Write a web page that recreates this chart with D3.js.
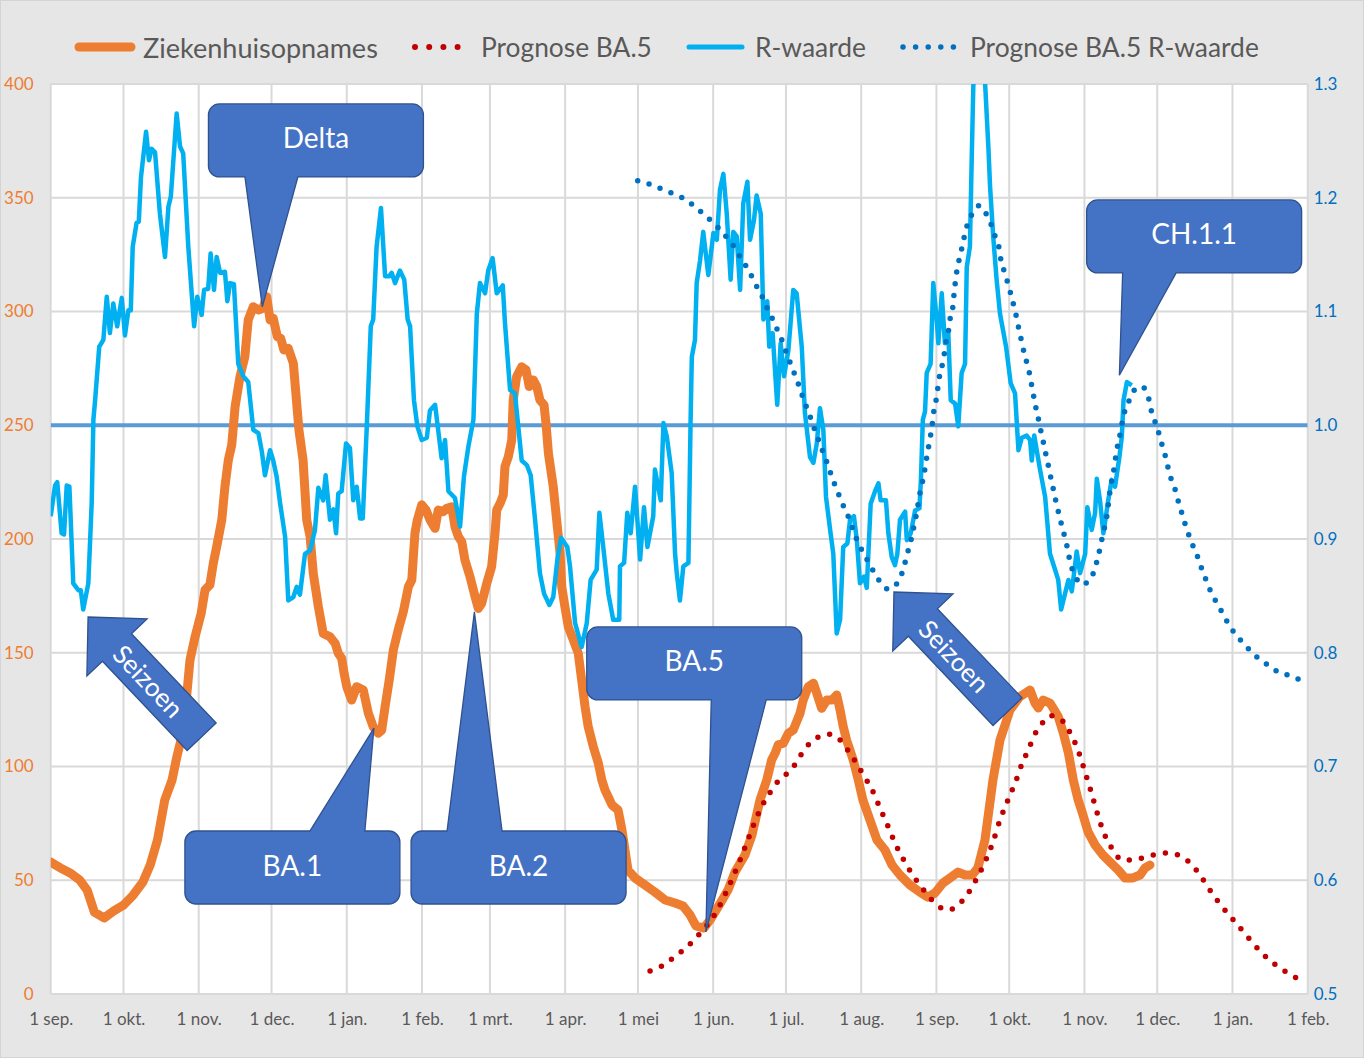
<!DOCTYPE html>
<html><head><meta charset="utf-8">
<script src="https://cdn.jsdelivr.net/npm/d3@7"></script>
<style>html,body{margin:0;padding:0;background:#fff}svg{display:block}text{font-family:Lato,'Open Sans',sans-serif}</style>
</head><body><svg id="chart" width="1364" height="1058"></svg>
<script>
// ---------------- DATA ----------------
const startDate = new Date(2021, 8, 1);
const endDate = new Date(2023, 1, 1);
const monthLabels = ["1 sep.","1 okt.","1 nov.","1 dec.","1 jan.","1 feb.","1 mrt.","1 apr.","1 mei","1 jun.","1 jul.","1 aug.","1 sep.","1 okt.","1 nov.","1 dec.","1 jan.","1 feb."];
const leftTicks = [0,50,100,150,200,250,300,350,400];
const rightTicks = [0.5,0.6,0.7,0.8,0.9,1.0,1.1,1.2,1.3];
const seriesNames = ["Ziekenhuisopnames","Prognose BA.5","R-waarde","Prognose BA.5 R-waarde"];
const referenceR = 1.0;

// [days since 1 sep 2021, hospital admissions]
const admissions = [[0,58],[4,55.4],[8,53.2],[12,50.1],[15,45.7],[18,36],[22,33.4],[26,36.5],[30,39.1],[34,43.5],[38,49.2],[41,56.7],[44,67.7],[47,85.3],[50,94],[52,104.3],[55,117.5],[56,130.7],[57.4,146.8],[59.5,157],[62,167.3],[63.6,177.6],[65.6,179.8],[67,189.3],[68.4,196.6],[70.5,208.4],[71.8,223],[73.2,234.7],[74.6,241.3],[76,258.2],[78,271.3],[80,280.1],[81.4,296.3],[83.5,302.1],[85.6,300.7],[87.4,301.4],[89,306.5],[90.4,296.3],[91.7,297],[93.4,288.9],[94.8,288.2],[96.1,283.1],[97.9,283.8],[100,277.2],[102.3,247.9],[104,234.7],[105.5,208.4],[106.9,201],[108.2,184.9],[110.3,170.2],[112.3,158.5],[115.1,157],[117.2,154.2],[118.5,149.8],[119.9,147.6],[120.9,141],[122,135.1],[124,129.2],[126.1,135.1],[128.8,133.6],[130.9,123.4],[132.9,117.5],[135,114.6],[136.4,116],[137.8,126.3],[139.5,138],[141.2,151.2],[143.2,160],[145.3,168],[147.4,179],[148.8,182],[150.1,202.5],[151.1,208.4],[152.9,215],[154.7,212.7],[156.3,208.4],[158.4,204.7],[159.7,212.7],[161.8,212],[163.2,213.5],[165.3,214.2],[166.6,205.4],[168,201],[169.4,198.8],[170.7,190.8],[172.8,183.4],[174.9,174.6],[176.2,169.5],[177.6,171.7],[179.7,180.5],[181.7,187.8],[183.1,202.5],[183.8,212.7],[185.2,215.7],[186.5,219.3],[187.2,231.8],[188.6,236.2],[190,243.5],[190.6,261.1],[192,271.3],[194.1,275.7],[195.9,274.3],[197.2,267],[198.9,269.9],[200.3,267],[201.6,261.1],[203.3,258.9],[204.1,250.9],[205.1,237.7],[207.1,223],[208.5,208.4],[209.9,193.7],[210.6,179],[211.9,170.2],[213.3,161.4],[215.4,155.6],[217.4,149.8],[218.8,138],[220.2,126.3],[221.5,117.5],[223.6,108.7],[225.7,101.4],[227.1,94.1],[228.4,89.7],[231.3,83.1],[233.8,80.9],[235.4,72.1],[237.9,54.5],[240.8,51],[244.9,47.9],[249,44.8],[253.2,41.3],[257.3,40],[260.6,38.7],[263.5,34.7],[265.9,29.9],[269.2,29],[271.7,32.5],[274.2,36.9],[276.7,41.3],[279.1,45.7],[282,53.6],[286.1,61.1],[289,69.9],[292.3,85.3],[295.1,94.1],[297.1,102.9],[298.5,105.8],[299.8,109.5],[301.9,110.2],[304,114.6],[306,116],[307.4,119.7],[308.8,123.4],[310.1,129.2],[312.2,135.1],[314.3,136.6],[315.7,132.2],[317.7,125.6],[319.8,129.2],[321.9,129.2],[323.9,131.4],[325.3,124.8],[326.6,117.5],[328,111.6],[330.7,102.9],[332.8,94.1],[334.7,85.3],[337.6,76.5],[340.5,67.7],[343.8,63.3],[346.7,56.7],[350,52.3],[354.1,47.9],[358.2,44.8],[361.5,42.6],[364.4,44.4],[367.7,48.8],[370.6,51],[373.9,53.6],[376.8,52.3],[379.7,52.3],[382.1,55.4],[385,67.7],[388.3,94.1],[391.2,111.6],[395.3,124.8],[399.4,130.7],[403.6,133.6],[405.6,127.9],[407,125.7],[409,129.2],[411.8,127.9],[415.2,121.9],[417.3,114.7],[419.4,105.9],[421.4,94.1],[423.4,85.3],[425.4,78.7],[427.5,71.2],[430.4,65.5],[433.6,61.1],[436.5,58],[439.9,54.5],[442.7,51],[446,51],[448.9,52.3],[451,55.4],[453,56.7]];

// [days, R]
const rValues = [[0,0.920],[1.8,0.947],[2.7,0.950],[4.5,0.905],[5.5,0.904],[6.6,0.947],[7.7,0.946],[9.3,0.861],[11.4,0.855],[12.4,0.855],[13.4,0.838],[15.5,0.861],[16.9,0.932],[17.6,1.005],[18.3,1.022],[20,1.069],[21.7,1.075],[23.1,1.113],[24.4,1.081],[25.8,1.107],[27.4,1.087],[29.3,1.112],[30.6,1.079],[32,1.101],[33,1.101],[33.8,1.157],[35.4,1.178],[36.3,1.179],[37.2,1.218],[39.3,1.258],[40.5,1.233],[41.6,1.243],[43,1.240],[45,1.186],[47.1,1.148],[48.5,1.192],[49.5,1.201],[51.9,1.274],[53.3,1.245],[54.6,1.239],[56.7,1.157],[59.1,1.087],[60.4,1.113],[62.2,1.097],[63.2,1.119],[64.9,1.120],[65.9,1.151],[67.3,1.119],[68.4,1.148],[69.8,1.134],[71.8,1.135],[72.8,1.109],[73.9,1.125],[75.5,1.124],[77.3,1.054],[79.4,1.043],[81.4,1.038],[83.5,0.996],[85.6,0.993],[87,0.977],[88.3,0.956],[90.4,0.978],[91.7,0.969],[93.1,0.955],[94.5,0.932],[96.6,0.902],[97.9,0.846],[100,0.849],[101.4,0.858],[102.7,0.851],[104.8,0.887],[106.9,0.890],[108.9,0.908],[110.3,0.945],[112.3,0.934],[113.3,0.956],[115.1,0.917],[116.5,0.926],[117.6,0.905],[118.5,0.940],[119.9,0.942],[121.7,0.984],[123.3,0.980],[124.7,0.934],[126.1,0.946],[127.5,0.918],[128.6,0.918],[130.2,0.996],[131.9,1.087],[132.9,1.093],[134.3,1.157],[136.1,1.191],[137.8,1.131],[139.5,1.131],[140.5,1.134],[141.9,1.125],[143.9,1.136],[145.7,1.128],[147.1,1.093],[148.1,1.087],[149.7,1.022],[151.1,0.999],[152.9,0.987],[155,0.989],[156.3,1.013],[158.4,1.018],[161.1,0.971],[162.5,0.987],[163.9,0.942],[166.6,0.936],[168.7,0.911],[170.3,0.955],[172.1,0.981],[174.2,1.005],[175.6,1.098],[176.9,1.125],[179,1.116],[180.3,1.136],[182.1,1.147],[183.8,1.116],[186.3,1.123],[187.2,1.090],[189.3,1.031],[191.3,1.028],[194.1,0.969],[196.2,0.965],[197.8,0.956],[199.6,0.917],[201.6,0.870],[203.3,0.852],[205.5,0.842],[207.1,0.849],[208.8,0.882],[210.3,0.901],[212.9,0.893],[214,0.876],[216.1,0.826],[218.8,0.805],[220.9,0.826],[222.5,0.864],[225,0.873],[226.1,0.923],[227.7,0.893],[229.8,0.852],[231.8,0.829],[234.3,0.829],[234.6,0.876],[236.3,0.879],[237.6,0.923],[239,0.905],[240.8,0.946],[242.9,0.882],[244.5,0.928],[245.9,0.893],[248.3,0.920],[249,0.961],[251.4,0.934],[252.5,1.002],[253.9,0.990],[255.9,0.958],[257.3,0.887],[258,0.870],[259.3,0.846],[260.7,0.876],[262.8,0.879],[263.7,1.005],[264.2,1.060],[265.5,1.075],[266.2,1.125],[267.6,1.145],[268.9,1.170],[271,1.132],[273.1,1.169],[274.5,1.163],[275.8,1.207],[277.2,1.221],[278.6,1.186],[280.2,1.128],[281.3,1.170],[282.7,1.166],[284.1,1.119],[285.4,1.195],[287.1,1.214],[288.2,1.163],[289.8,1.180],[290.9,1.202],[292.6,1.186],[293.7,1.093],[295.3,1.109],[296.1,1.069],[297.5,1.081],[299.4,1.018],[300.8,1.072],[302.2,1.043],[304,1.066],[306,1.119],[307.4,1.116],[309.5,1.069],[310.8,1.011],[312.9,0.972],[314.3,0.967],[315.7,0.984],[317,1.015],[318.4,0.996],[319.5,0.937],[321.2,0.908],[322.5,0.887],[323.9,0.817],[325.3,0.829],[326.6,0.893],[328.3,0.896],[329.4,0.917],[331,0.920],[332.2,0.899],[333.5,0.861],[335.2,0.867],[336.3,0.857],[337.9,0.931],[339.7,0.942],[341.1,0.949],[342,0.934],[344.2,0.934],[345.2,0.905],[346.6,0.884],[347.9,0.877],[348.9,0.887],[350,0.917],[352.1,0.924],[352.8,0.899],[354.4,0.905],[356.2,0.925],[358,0.927],[358.6,0.952],[359.4,1.005],[360.3,1.012],[361,1.046],[362.6,1.054],[363.7,1.125],[365.1,1.093],[365.8,1.072],[367.2,1.116],[368.5,1.072],[369.9,1.081],[370.9,1.022],[372.7,1.019],[374,0.999],[375.4,1.046],[376.8,1.054],[377.5,1.139],[378.8,1.157],[379.5,1.230],[380.2,1.298],[381.8,1.345],[383.2,1.365],[384.3,1.335],[385,1.303],[386.4,1.245],[387.1,1.210],[388.4,1.166],[389.8,1.128],[391.2,1.098],[393.7,1.069],[395.6,1.037],[397.4,1.028],[398.8,0.978],[400.2,0.989],[402.2,0.991],[403.6,0.987],[404.3,0.969],[405.3,0.991],[407.7,0.961],[409.8,0.937],[411.8,0.887],[413.9,0.873],[415.2,0.864],[416.4,0.838],[418,0.852],[419.4,0.864],[420.8,0.854],[422.8,0.889],[424.2,0.870],[426.3,0.887],[427.2,0.928],[429,0.908],[430.4,0.923],[431.1,0.953],[432.4,0.934],[433.8,0.905],[435.8,0.934],[437.2,0.952],[438.6,0.946],[440.4,0.972],[441.4,0.990],[442.1,1.022],[443.5,1.038],[445.5,1.035]];

// [days, forecast admissions]
const forecastAdmissions = [[247,10.1],[251.9,12.3],[256.4,15.8],[260.6,19.3],[264.7,23.3],[268.4,27.7],[272.1,32.5],[275.8,39.1],[279.9,48.4],[284.1,58.9],[288.2,70.3],[292.3,80.9],[296.4,88.5],[300.5,94.5],[305.4,98.8],[308.1,103.3],[311.3,108.4],[315.4,112.4],[320.7,114.2],[325.7,111.2],[329.1,106.2],[332.2,101.1],[335.2,95.8],[338.5,89.7],[341.7,81.8],[345,73.8],[348.3,65.5],[352,58],[356.1,51],[360.7,44.4],[365.2,39.1],[369.8,36.9],[373.9,39.1],[377.6,43.5],[381.3,50.1],[385,58],[388.3,66.8],[391.2,76.5],[394.5,85.3],[398.5,95.8],[400.4,101.7],[402.9,107.3],[404.9,112.8],[408,118.2],[412.1,122.3],[417,120],[420,115],[422.5,109.5],[424.5,103.6],[426.2,97.7],[428.3,90.5],[430.3,83.1],[432.4,75.6],[434.9,68.6],[437.8,63.3],[441.5,58.9],[446,58.9],[451,60.2],[455.9,61.5],[460.9,62],[465.4,60.7],[469.5,57.6],[473.6,52.3],[477.7,45.7],[481.8,39.6],[486.4,33.8],[490.9,28.1],[495.4,22.4],[500,17.1],[504.9,12.7],[509.8,9.2],[514.8,6.2],[516.9,4.8]];

// [days, forecast R]
const forecastR = [[241.9,1.215],[246.7,1.212],[251.4,1.208],[255.9,1.204],[260.3,1.200],[264.4,1.194],[268.3,1.187],[272,1.180],[275.4,1.173],[278.6,1.165],[281.6,1.157],[284.1,1.148],[286.8,1.139],[289.1,1.130],[291.4,1.120],[293.7,1.111],[295.7,1.101],[297.8,1.092],[299.8,1.082],[301.7,1.073],[303.3,1.063],[305.1,1.053],[306.9,1.043],[308.5,1.034],[310.2,1.023],[312,1.013],[313.6,1.004],[315.3,0.993],[317,0.984],[318.6,0.974],[320.5,0.964],[322.1,0.953],[323.9,0.944],[325.6,0.934],[327.6,0.925],[329.4,0.916],[331,0.906],[333.1,0.895],[335.4,0.886],[337.6,0.877],[340.1,0.868],[342.9,0.859],[345,0.856],[347,0.857],[350,0.866],[351.6,0.875],[352.8,0.886],[354.1,0.895],[355.2,0.906],[356.2,0.916],[357.1,0.926],[357.9,0.937],[358.9,0.947],[359.9,0.957],[360.7,0.968],[361.5,0.978],[362.4,0.989],[363.2,0.999],[363.7,1.009],[364.7,1.020],[365.4,1.030],[366.1,1.041],[367.2,1.051],[368.1,1.061],[368.9,1.072],[369.9,1.082],[370.6,1.093],[371.7,1.103],[372.2,1.114],[372.7,1.124],[373.3,1.134],[374.3,1.145],[375.4,1.155],[376.4,1.165],[377.7,1.176],[379.5,1.185],[382.7,1.193],[385.7,1.185],[387.8,1.175],[389.2,1.166],[390.8,1.156],[391.6,1.145],[393,1.135],[394.4,1.125],[395.7,1.115],[397,1.104],[398.1,1.094],[399,1.084],[400.2,1.073],[401.2,1.063],[402.5,1.053],[403.6,1.043],[404.5,1.032],[405.4,1.022],[406.3,1.012],[407.4,1.002],[408.4,0.991],[409.5,0.981],[410.4,0.971],[411.5,0.961],[412.5,0.950],[413.6,0.940],[414.6,0.929],[415.9,0.919],[416.9,0.909],[418.3,0.899],[419.3,0.888],[420.3,0.878],[422.1,0.868],[424.9,0.860],[428.6,0.865],[430.4,0.875],[431.7,0.885],[432.8,0.896],[433.8,0.906],[434.9,0.916],[435.6,0.926],[436.2,0.937],[436.9,0.947],[437.9,0.958],[438.6,0.968],[439.3,0.978],[440.4,0.989],[442.3,1.010],[444.1,1.020],[445.7,1.029],[449.6,1.034],[452.3,1.025],[453.4,1.014],[454.8,1.005],[456.5,0.994],[457.8,0.984],[459.2,0.974],[460.3,0.964],[461.7,0.953],[463.3,0.944],[464.7,0.933],[466.1,0.923],[467.5,0.913],[469.1,0.903],[470.9,0.893],[472.7,0.884],[474.3,0.874],[476.1,0.864],[478,0.854],[480.2,0.845],[482.6,0.836],[484.9,0.827],[487.6,0.818],[490.8,0.810],[494.2,0.802],[497.7,0.795],[501.8,0.789],[505.9,0.783],[510.4,0.780],[515.1,0.776]];

// annotations: label, tip [days, value, axis], box centre [days, value, axis], side of pointer
const callouts = [
  {label:"Delta", tip:[87.2,302.1,"L"], box:[109.3,375.2,"L"], side:"bottom", base:[-71,-18]},
  {label:"BA.1", tip:[133.2,116.9,"L"], box:[99.6,55.6,"L"], side:"top", base:[17.5,72.5]},
  {label:"BA.2", tip:[174.6,168,"L"], box:[192.8,55.6,"L"], side:"top", base:[-71.5,-16.5]},
  {label:"BA.5", tip:[270,27.3,"L"], box:[265.2,145.3,"L"], side:"bottom", base:[17,72]},
  {label:"CH.1.1", tip:[440.4,1.044,"R"], box:[471.2,1.166,"R"], side:"bottom", base:[-71.5,-18]}
];
const arrows = [
  {label:"Seizoen", tip:[15.4,165.7]},
  {label:"Seizoen", tip:[347.5,176.7]}
];

// ---------------- CHART ----------------
const W = 1364, H = 1058;
const plot = {left:50.7, right:1307.7, top:84, bottom:994};
const svg = d3.select("#chart");
const dayToDate = d => new Date(startDate.getTime() + d * 864e5);

const x = d3.scaleTime().domain([startDate, endDate]).range([plot.left, plot.right]);
const yL = d3.scaleLinear().domain([0, 400]).range([plot.bottom, plot.top]);
const yR = d3.scaleLinear().domain([0.5, 1.3]).range([plot.bottom, plot.top]);

svg.append("rect").attr("width", W).attr("height", H).attr("fill", "#e7e6e6");
svg.append("rect").attr("x", 0.5).attr("y", 0.5).attr("width", W-1).attr("height", H-1).attr("fill", "none").attr("stroke", "#d4d4d4");
svg.append("rect").attr("x", plot.left).attr("y", plot.top).attr("width", plot.right-plot.left).attr("height", plot.bottom-plot.top).attr("fill", "#ffffff");

const months = d3.timeMonth.range(startDate, d3.timeDay.offset(endDate, 1));
// grid
const grid = svg.append("g").attr("stroke", "#d9d9d9").attr("stroke-width", 2);
grid.selectAll("line.v").data(months).join("line").attr("class","v")
  .attr("x1", d => x(d)).attr("x2", d => x(d)).attr("y1", plot.top).attr("y2", plot.bottom);
grid.selectAll("line.h").data(leftTicks).join("line").attr("class","h")
  .attr("x1", plot.left).attr("x2", plot.right).attr("y1", d => yL(d)).attr("y2", d => yL(d));

// axes
const axB = svg.append("g").attr("transform", `translate(0,${plot.bottom})`)
  .call(d3.axisBottom(x).tickValues(months).tickSize(0).tickPadding(19).tickFormat((d,i) => monthLabels[i]));
axB.select(".domain").remove();
axB.selectAll("text").attr("fill", "#595959").style("font-size", "17px").style("font-family", "Lato, sans-serif");

const axL = svg.append("g").attr("transform", `translate(${plot.left},0)`)
  .call(d3.axisLeft(yL).tickValues(leftTicks).tickSize(0).tickPadding(17).tickFormat(d3.format("d")));
axL.select(".domain").remove();
axL.selectAll("text").attr("fill", "#ed7d31").style("font-size", "17px").style("font-family", "Lato, sans-serif");

const axR = svg.append("g").attr("transform", `translate(${plot.right},0)`)
  .call(d3.axisRight(yR).tickValues(rightTicks).tickSize(0).tickPadding(6).tickFormat(d3.format(".1f")));
axR.select(".domain").remove();
axR.selectAll("text").attr("fill", "#0070c0").style("font-size", "17px").style("font-family", "Lato, sans-serif");

// clip
svg.append("clipPath").attr("id", "clip").append("rect")
  .attr("x", plot.left).attr("y", plot.top).attr("width", plot.right-plot.left).attr("height", plot.bottom-plot.top);
const series = svg.append("g").attr("clip-path", "url(#clip)");

// reference line R = 1.0
series.append("line").attr("x1", plot.left).attr("x2", plot.right)
  .attr("y1", yR(referenceR)).attr("y2", yR(referenceR)).attr("stroke", "#5b9bd5").attr("stroke-width", 4);

const lineL = d3.line().x(d => x(dayToDate(d[0]))).y(d => yL(d[1]));
const lineR = d3.line().x(d => x(dayToDate(d[0]))).y(d => yR(d[1]));
const smoothL = d3.line().curve(d3.curveMonotoneX).x(d => x(dayToDate(d[0]))).y(d => yL(d[1]));
const smoothR = d3.line().curve(d3.curveMonotoneX).x(d => x(dayToDate(d[0]))).y(d => yR(d[1]));

series.append("path").datum(admissions).attr("d", lineL).attr("fill", "none")
  .attr("stroke", "#ed7d31").attr("stroke-width", 9).attr("stroke-linejoin", "round").attr("stroke-linecap", "round");
series.append("path").datum(rValues).attr("d", lineR).attr("fill", "none")
  .attr("stroke", "#00b0f0").attr("stroke-width", 4.5).attr("stroke-linejoin", "round");
series.append("path").datum(forecastAdmissions).attr("d", smoothL).attr("fill", "none")
  .attr("stroke", "#c00000").attr("stroke-width", 5.5).attr("stroke-linecap", "round").attr("stroke-dasharray", "0 12.3");
series.append("path").datum(forecastR).attr("d", smoothR).attr("fill", "none")
  .attr("stroke", "#0070c0").attr("stroke-width", 5.5).attr("stroke-linecap", "round").attr("stroke-dasharray", "0 11.8");

// ---------------- CALLOUTS ----------------
const BW = 215, BH = 73, RAD = 11;
const ann = svg.append("g");
function pos(p) { return [x(dayToDate(p[0])), p[2] === "R" ? yR(p[1]) : yL(p[1])]; }
callouts.forEach(c => {
  const [tx, ty] = pos(c.tip);
  const [cx, cy] = pos(c.box);
  const l = cx - BW/2, r = cx + BW/2, t = cy - BH/2, b = cy + BH/2;
  const b1 = cx + c.base[0], b2 = cx + c.base[1];
  let p = `M${l+RAD},${t}`;
  if (c.side === "top") p += `L${b1},${t}L${tx},${ty}L${b2},${t}`;
  p += `L${r-RAD},${t}A${RAD},${RAD} 0 0 1 ${r},${t+RAD}L${r},${b-RAD}A${RAD},${RAD} 0 0 1 ${r-RAD},${b}`;
  if (c.side === "bottom") p += `L${b2},${b}L${tx},${ty}L${b1},${b}`;
  p += `L${l+RAD},${b}A${RAD},${RAD} 0 0 1 ${l},${b-RAD}L${l},${t+RAD}A${RAD},${RAD} 0 0 1 ${l+RAD},${t}Z`;
  ann.append("path").attr("d", p).attr("fill", "#4472c4").attr("stroke", "#2f528f").attr("stroke-width", 1.3);
  ann.append("text").attr("x", cx).attr("y", cy - 3).attr("text-anchor", "middle").attr("dominant-baseline", "central")
    .attr("fill", "#ffffff").style("font-size", "28px").text(c.label);
});

// block arrows
const AL = 165, HL = 42, HW = 83, SW = 40, ANG = -133.5;
arrows.forEach(a => {
  const [tx, ty] = pos(a.tip);
  const pts = [[0,0],[-HL,-HW/2],[-HL,-SW/2],[-AL,-SW/2],[-AL,SW/2],[-HL,SW/2],[-HL,HW/2]];
  ann.append("path").attr("d", "M" + pts.map(q => q.join(",")).join("L") + "Z")
    .attr("transform", `translate(${tx},${ty}) rotate(${ANG})`)
    .attr("fill", "#4472c4").attr("stroke", "#2f528f").attr("stroke-width", 1.3);
  const rad = ANG * Math.PI / 180, dist = 88;
  const mx = tx - Math.cos(rad) * dist, my = ty - Math.sin(rad) * dist;
  ann.append("text").attr("transform", `translate(${mx},${my}) rotate(${ANG + 180})`)
    .attr("text-anchor", "middle").attr("dominant-baseline", "central")
    .attr("fill", "#ffffff").style("font-size", "26px").text(a.label);
});

// ---------------- LEGEND ----------------
const legend = svg.append("g");
const legY = 47;
const legTextX = [143, 481, 755, 970];
const legTextW = [235, 171, 111, 289];
legend.append("line").attr("x1", 79).attr("x2", 131).attr("y1", legY).attr("y2", legY)
  .attr("stroke", "#ed7d31").attr("stroke-width", 9).attr("stroke-linecap", "round");
legend.append("line").attr("x1", 415).attr("x2", 458).attr("y1", legY).attr("y2", legY)
  .attr("stroke", "#c00000").attr("stroke-width", 6).attr("stroke-linecap", "round").attr("stroke-dasharray", "0 14.2");
legend.append("line").attr("x1", 689).attr("x2", 742).attr("y1", legY).attr("y2", legY)
  .attr("stroke", "#00b0f0").attr("stroke-width", 5).attr("stroke-linecap", "round");
legend.append("line").attr("x1", 903).attr("x2", 953.5).attr("y1", legY).attr("y2", legY)
  .attr("stroke", "#0070c0").attr("stroke-width", 5.5).attr("stroke-linecap", "round").attr("stroke-dasharray", "0 12.6");
seriesNames.forEach((n, i) => {
  const t = legend.append("text").attr("x", legTextX[i]).attr("y", legY).attr("dominant-baseline", "central")
    .attr("fill", "#595959").style("font-size", "24px").text(n);
  const w = t.node().getComputedTextLength();
  if (w > 0) t.style("font-size", (24 * legTextW[i] / w) + "px");
});
</script>
</body></html>
